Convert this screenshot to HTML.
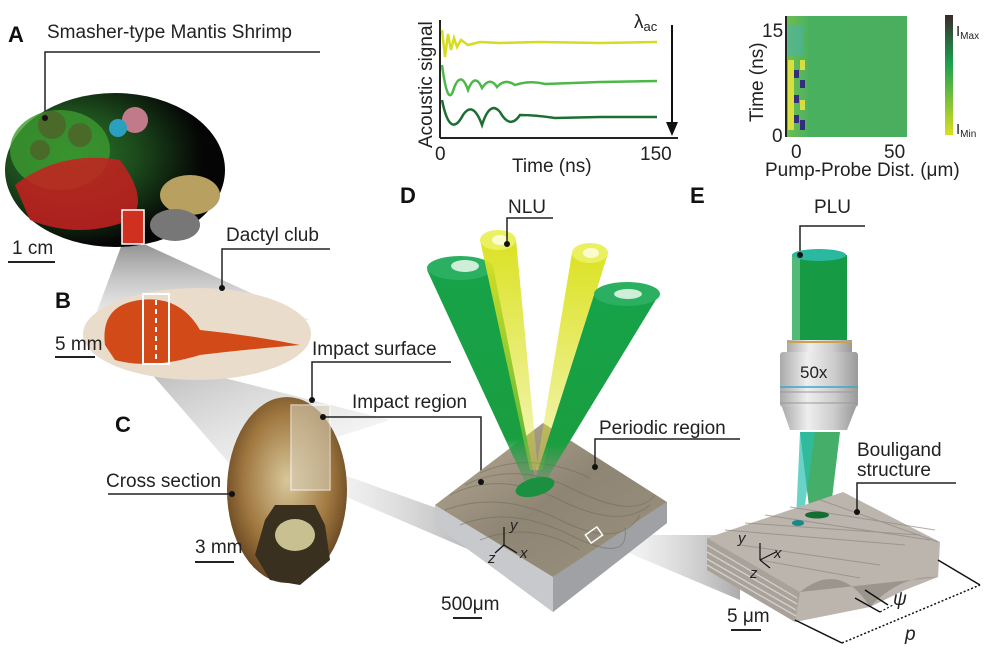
<!DOCTYPE html>
<html><head><meta charset="utf-8"><style>
html,body{margin:0;padding:0;background:#fff}
svg{display:block}
text{font-family:"Liberation Sans",sans-serif;fill:#222}
.lb{font-size:19px}
.big{font-size:22px;font-weight:bold;fill:#111}
.sm{font-size:15px}
</style></head><body>
<svg width="990" height="654" viewBox="0 0 990 654" xmlns="http://www.w3.org/2000/svg">
<defs>
<linearGradient id="wedge1" x1="0" y1="0" x2="0" y2="1"><stop offset="0" stop-color="#777"/><stop offset="1" stop-color="#ddd" stop-opacity="0.4"/></linearGradient>
<linearGradient id="wedge2" x1="0" y1="0" x2="1" y2="1"><stop offset="0" stop-color="#999"/><stop offset="1" stop-color="#eee" stop-opacity="0.3"/></linearGradient>
<linearGradient id="wedge3" x1="0" y1="0" x2="1" y2="0"><stop offset="0" stop-color="#ddd" stop-opacity="0.5"/><stop offset="1" stop-color="#888"/></linearGradient>
<linearGradient id="wedge4" x1="1" y1="0" x2="0" y2="0"><stop offset="0" stop-color="#888"/><stop offset="1" stop-color="#eee" stop-opacity="0.3"/></linearGradient>
<radialGradient id="ga" cx="0.3" cy="0.4" r="0.6"><stop offset="0" stop-color="#2a7a2a"/><stop offset="0.5" stop-color="#1c4a1c"/><stop offset="1" stop-color="#050505"/></radialGradient>
<radialGradient id="gc" cx="0.5" cy="0.45" r="0.6"><stop offset="0" stop-color="#d8c79a"/><stop offset="0.6" stop-color="#a07840"/><stop offset="1" stop-color="#5a3a1a"/></radialGradient>
<linearGradient id="top" x1="0" y1="0" x2="1" y2="1"><stop offset="0" stop-color="#b9ad96"/><stop offset="0.5" stop-color="#8f8574"/><stop offset="1" stop-color="#9b927f"/></linearGradient>
<linearGradient id="bg" x1="0" y1="0" x2="0" y2="1"><stop offset="0" stop-color="#16a34a"/><stop offset="0.8" stop-color="#1a9e40"/><stop offset="1" stop-color="#1a9e40" stop-opacity="0.2"/></linearGradient>
<linearGradient id="by" x1="0" y1="0" x2="0" y2="1"><stop offset="0" stop-color="#dce224"/><stop offset="1" stop-color="#dce224" stop-opacity="0.3"/></linearGradient>
<linearGradient id="obj" x1="0" y1="0" x2="1" y2="0"><stop offset="0" stop-color="#aaa"/><stop offset="0.35" stop-color="#eee"/><stop offset="0.7" stop-color="#ccc"/><stop offset="1" stop-color="#999"/></linearGradient>
<linearGradient id="hm" x1="0" y1="0" x2="1" y2="0"><stop offset="0" stop-color="#6fbf50"/><stop offset="0.2" stop-color="#49b060"/><stop offset="1" stop-color="#4aae5e"/></linearGradient>
<linearGradient id="cb" x1="0" y1="0" x2="0" y2="1"><stop offset="0" stop-color="#3a2a2a"/><stop offset="0.4" stop-color="#1aa050"/><stop offset="1" stop-color="#d8e020"/></linearGradient>
</defs>

<!-- wedges -->
<polygon points="122,244 144,244 310,320 90,330" fill="url(#wedge1)" opacity="0.8"/>
<polygon points="143,364 169,364 390,420 235,470" fill="url(#wedge2)" opacity="0.7"/>
<polygon points="330,470 330,490 470,550 470,520" fill="url(#wedge3)" opacity="0.6"/>
<polygon points="600,535 610,545 740,600 740,535" fill="url(#wedge4)" opacity="0.7"/>

<!-- A -->
<text class="big" x="8" y="42">A</text>
<text class="lb" x="47" y="38">Smasher-type Mantis Shrimp</text>
<polyline points="320,52 45,52 45,118" fill="none" stroke="#222" stroke-width="1.5"/>
<ellipse cx="115" cy="170" rx="110" ry="77" fill="url(#ga)"/>
<ellipse cx="60" cy="150" rx="50" ry="40" fill="#3c9a30" opacity="0.8"/>
<circle cx="52" cy="125" r="14" fill="#4a6a2a"/><circle cx="80" cy="135" r="12" fill="#4a6a2a"/><circle cx="40" cy="150" r="10" fill="#4a6a2a"/>
<circle cx="135" cy="120" r="13" fill="#c07a8a"/><circle cx="118" cy="128" r="9" fill="#2aa0c0"/>
<path d="M15,185 Q60,150 120,160 Q150,200 130,220 Q80,240 30,220Z" fill="#c82020" opacity="0.85"/>
<ellipse cx="190" cy="195" rx="30" ry="20" fill="#b8a060"/>
<ellipse cx="175" cy="225" rx="25" ry="16" fill="#777"/>
<rect x="122" y="210" width="22" height="34" fill="#d03020" stroke="#fff" stroke-width="1.5"/>
<text class="lb" x="12" y="254">1 cm</text>
<line x1="8" y1="262" x2="55" y2="262" stroke="#222" stroke-width="2"/>
<circle cx="45" cy="118" r="3" fill="#111"/>

<!-- B -->
<text class="lb" x="226" y="241">Dactyl club</text>
<polyline points="330,249 222,249 222,288" fill="none" stroke="#222" stroke-width="1.5"/>
<text class="big" x="55" y="308">B</text>
<ellipse cx="197" cy="334" rx="114" ry="46" fill="#eadccb"/>
<path d="M105,345 Q100,305 140,300 Q180,295 200,330 Q250,335 300,345 Q240,350 200,355 Q150,370 115,360Z" fill="#d24a18"/>
<rect x="143" y="294" width="26" height="70" fill="none" stroke="#fff" stroke-width="2"/>
<line x1="156" y1="300" x2="156" y2="360" stroke="#fff" stroke-width="2" stroke-dasharray="5,4"/>
<circle cx="222" cy="288" r="3" fill="#111"/>
<text class="lb" x="55" y="350">5 mm</text>
<line x1="55" y1="357" x2="95" y2="357" stroke="#222" stroke-width="2"/>

<!-- C -->
<text class="lb" x="312" y="355">Impact surface</text>
<polyline points="451,362 312,362 312,400" fill="none" stroke="#222" stroke-width="1.5"/>
<text class="big" x="115" y="432">C</text>
<ellipse cx="287" cy="490" rx="60" ry="93" fill="url(#gc)"/>
<path d="M255,555 L265,520 L275,505 L315,505 L325,525 L330,560 L300,585 L270,580Z" fill="#3a3020"/>
<ellipse cx="295" cy="535" rx="20" ry="16" fill="#c8c090"/>
<rect x="291" y="405" width="39" height="85" fill="#d8cfb8" opacity="0.6" stroke="#fff" stroke-width="1.5"/>
<text class="lb" x="352" y="408">Impact region</text>
<polyline points="323,417 481,417 481,482" fill="none" stroke="#222" stroke-width="1.5"/>
<circle cx="323" cy="417" r="3" fill="#111"/>
<circle cx="312" cy="400" r="3" fill="#111"/>
<text class="lb" x="106" y="487">Cross section</text>
<line x1="108" y1="494" x2="232" y2="494" stroke="#222" stroke-width="1.5"/>
<circle cx="232" cy="494" r="3" fill="#111"/>
<text class="lb" x="195" y="553">3 mm</text>
<line x1="195" y1="562" x2="234" y2="562" stroke="#222" stroke-width="2"/>

<!-- D plot -->
<line x1="440" y1="20" x2="440" y2="138" stroke="#222" stroke-width="2"/>
<line x1="440" y1="138" x2="678" y2="138" stroke="#222" stroke-width="2"/>
<text class="lb" transform="translate(432,148) rotate(-90)">Acoustic signal</text>
<path d="M442,30 L445,57 L448,34 L451,50 L454,38 L457,47 L461,40 L468,45 L480,42 L500,43 L540,42 L600,43 L657,42" fill="none" stroke="#d6dc20" stroke-width="2.5"/>
<path d="M442,65 Q448,110 454,88 Q461,70 468,90 Q475,72 482,88 Q490,76 497,87 Q505,78 515,85 Q530,80 545,84 L600,82 L657,81" fill="none" stroke="#4cb848" stroke-width="2.5"/>
<path d="M442,100 Q450,140 463,115 Q473,100 482,125 Q490,100 500,112 Q510,130 520,115 Q535,115 555,118 L600,117 L657,117" fill="none" stroke="#1d6e32" stroke-width="2.5"/>
<line x1="672" y1="25" x2="672" y2="125" stroke="#111" stroke-width="2"/>
<polygon points="666,122 678,122 672,136" fill="#111"/>
<text class="lb" x="634" y="28">λ<tspan font-size="13" dy="3">ac</tspan></text>
<text class="lb" x="435" y="160">0</text>
<text class="lb" x="640" y="160">150</text>
<text class="lb" x="512" y="172">Time (ns)</text>

<!-- heatmap -->
<rect x="786" y="16" width="121" height="121" fill="url(#hm)"/>
<g opacity="0.9">
<rect x="788" y="60" width="6" height="70" fill="#e4e440"/><rect x="794" y="70" width="5" height="8" fill="#302080"/>
<rect x="794" y="95" width="5" height="8" fill="#302080"/><rect x="794" y="115" width="5" height="8" fill="#302080"/>
<rect x="800" y="60" width="5" height="10" fill="#e4e440"/><rect x="800" y="80" width="5" height="8" fill="#302080"/>
<rect x="800" y="100" width="5" height="10" fill="#e4e440"/><rect x="800" y="120" width="5" height="10" fill="#302080"/>
<rect x="788" y="25" width="15" height="30" fill="#4ab0b0" opacity="0.6"/>
</g>
<line x1="786" y1="16" x2="786" y2="137" stroke="#222" stroke-width="2"/>
<text class="lb" x="762" y="37">15</text>
<text class="lb" x="772" y="142">0</text>
<text class="lb" transform="translate(763,122) rotate(-90)">Time (ns)</text>
<text class="lb" x="791" y="158">0</text>
<text class="lb" x="884" y="158">50</text>
<text class="lb" x="765" y="176">Pump-Probe Dist. (μm)</text>
<rect x="945" y="15" width="8" height="120" fill="url(#cb)"/>
<text class="sm" x="956" y="36" font-size="14">I<tspan font-size="10" dy="3">Max</tspan></text>
<text class="sm" x="956" y="134" font-size="14">I<tspan font-size="10" dy="3">Min</tspan></text>

<!-- D block -->
<text class="big" x="400" y="203">D</text>
<polygon points="435,505 435,525 553,612 667,523 667,502 553,577" fill="#bfc1c4"/>
<polygon points="435,525 553,612 553,577 435,505" fill="#c8c9cc"/>
<polygon points="553,612 667,523 667,502 553,577" fill="#9fa1a4"/>
<polygon points="435,505 543,423 667,502 553,577" fill="url(#top)"/>
<g stroke="#6e6656" stroke-width="1" opacity="0.5" fill="none">
<path d="M450,495 Q500,470 560,500 T650,505"/><path d="M465,485 Q515,460 575,490 T655,495"/><path d="M480,473 Q530,450 590,478"/>
<path d="M445,510 Q500,490 560,520 T640,515"/><path d="M460,525 Q510,505 570,535 T625,528"/><path d="M480,540 Q530,520 580,550"/>
</g>
<!-- beams -->
<polygon points="427,270 493,266 535,480 525,482" fill="url(#bg)"/>
<ellipse cx="460" cy="268" rx="33" ry="12" fill="#2ab060"/>
<ellipse cx="465" cy="266" rx="14" ry="6" fill="#cfeed8"/>
<polygon points="480,240 516,240 538,470 530,470" fill="url(#by)"/>
<ellipse cx="498" cy="240" rx="18" ry="10" fill="#eaf060"/>
<ellipse cx="500" cy="240" rx="8" ry="5" fill="#fafcd0"/>
<polygon points="572,253 608,253 542,470 536,470" fill="url(#by)"/>
<ellipse cx="590" cy="253" rx="18" ry="10" fill="#eaf060"/>
<ellipse cx="591" cy="253" rx="8" ry="5" fill="#fafcd0"/>
<polygon points="594,295 660,293 545,482 535,480" fill="url(#bg)"/>
<ellipse cx="627" cy="294" rx="33" ry="12" fill="#2ab060"/>
<ellipse cx="628" cy="294" rx="14" ry="5" fill="#cfeed8"/>
<ellipse cx="535" cy="487" rx="20" ry="9" transform="rotate(-15 535 487)" fill="#1a9040"/>
<rect x="587" y="530" width="14" height="10" transform="rotate(-35 594 535)" fill="none" stroke="#fff" stroke-width="1.5"/>
<text class="lb" x="508" y="213">NLU</text>
<polyline points="553,218 507,218 507,244" fill="none" stroke="#222" stroke-width="1.5"/>
<circle cx="507" cy="244" r="3" fill="#111"/>
<text class="lb" x="599" y="434">Periodic region</text>
<polyline points="740,439 595,439 595,467" fill="none" stroke="#222" stroke-width="1.5"/>
<circle cx="595" cy="467" r="3" fill="#111"/>
<circle cx="481" cy="482" r="3" fill="#111"/>
<g stroke="#111" stroke-width="1.2" fill="none"><line x1="504" y1="545" x2="504" y2="527"/><line x1="504" y1="545" x2="517" y2="553"/><line x1="504" y1="545" x2="495" y2="553"/></g>
<text class="sm" x="510" y="530" font-style="italic">y</text><text class="sm" x="520" y="558" font-style="italic">x</text><text class="sm" x="488" y="563" font-style="italic">z</text>
<text class="lb" x="441" y="610">500μm</text>
<line x1="453" y1="618" x2="482" y2="618" stroke="#222" stroke-width="2"/>

<!-- E -->
<text class="big" x="690" y="203">E</text>
<text class="lb" x="814" y="213">PLU</text>
<polyline points="865,226 800,226 800,255" fill="none" stroke="#222" stroke-width="1.5"/>
<rect x="792" y="255" width="55" height="90" fill="#169a44"/>
<rect x="792" y="255" width="8" height="90" fill="#7ccf9a" opacity="0.6"/>
<ellipse cx="819" cy="255" rx="27" ry="6" fill="#2ab8a0"/>
<circle cx="800" cy="255" r="3" fill="#111"/>
<rect x="787" y="340" width="65" height="12" fill="url(#obj)"/>
<line x1="787" y1="342" x2="852" y2="342" stroke="#c9a24a" stroke-width="2"/>
<rect x="780" y="352" width="78" height="55" rx="3" fill="url(#obj)"/>
<text x="800" y="378" font-size="17" fill="#444">50x</text>
<line x1="780" y1="387" x2="858" y2="387" stroke="#3aa8c8" stroke-width="1.5"/>
<g stroke="#999" stroke-width="1">
<line x1="780" y1="392" x2="858" y2="392"/><line x1="780" y1="403" x2="858" y2="403"/>
</g>
<polygon points="782,407 856,407 847,430 790,430" fill="url(#obj)"/>
<polygon points="800,432 840,432 830,515 810,515" fill="#169a44" opacity="0.8"/>
<polygon points="800,432 815,432 803,520 796,520" fill="#2ac0b0" opacity="0.7"/>
<!-- bouligand -->
<polygon points="707,538 843,492 940,542 938,577 905,590 870,607 795,622 707,570" fill="#bcb5ae"/>
<polygon points="707,538 800,592 795,622 707,570" fill="#a8a29b"/>
<g stroke="#d6d0ca" stroke-width="1.3">
<line x1="707" y1="545" x2="797" y2="598"/><line x1="707" y1="552" x2="797" y2="604"/><line x1="707" y1="559" x2="796" y2="610"/><line x1="707" y1="565" x2="796" y2="616"/>
</g>
<g stroke="#8f8880" stroke-width="1" opacity="0.7">
<line x1="725" y1="530" x2="905" y2="545"/><line x1="745" y1="523" x2="920" y2="535"/><line x1="765" y1="515" x2="930" y2="540"/><line x1="790" y1="507" x2="935" y2="530"/>
<line x1="815" y1="498" x2="938" y2="542"/><line x1="740" y1="545" x2="880" y2="565"/><line x1="760" y1="560" x2="860" y2="578"/>
</g>
<path d="M800,592 Q840,560 870,607 Q900,575 938,577" fill="#9c958e"/>
<ellipse cx="817" cy="515" rx="12" ry="3.5" fill="#136e30"/>
<ellipse cx="798" cy="523" rx="6" ry="3" fill="#168a88"/>
<text class="lb" x="857" y="456">Bouligand</text>
<text class="lb" x="857" y="476">structure</text>
<polyline points="956,483 857,483 857,512" fill="none" stroke="#222" stroke-width="1.5"/>
<circle cx="857" cy="512" r="3" fill="#111"/>
<g stroke="#111" stroke-width="1.2" fill="none"><line x1="760" y1="560" x2="760" y2="543"/><line x1="760" y1="560" x2="776" y2="552"/><line x1="760" y1="560" x2="770" y2="568"/></g>
<text class="sm" x="738" y="543" font-style="italic">y</text><text class="sm" x="774" y="558" font-style="italic">x</text><text class="sm" x="750" y="578" font-style="italic">z</text>
<g stroke="#111" stroke-width="1.5">
<line x1="795" y1="620" x2="842" y2="643"/><line x1="938" y1="560" x2="980" y2="585"/>
<line x1="865" y1="590" x2="888" y2="605"/><line x1="855" y1="598" x2="880" y2="612"/>
</g>
<line x1="842" y1="643" x2="980" y2="585" stroke="#111" stroke-width="1.5" stroke-dasharray="2,2"/>
<line x1="880" y1="612" x2="893" y2="605" stroke="#111" stroke-width="1.2" stroke-dasharray="2,2"/>
<text class="lb" x="893" y="605" font-style="italic">ψ</text>
<text class="lb" x="905" y="640" font-style="italic">p</text>
<text class="lb" x="727" y="622">5 μm</text>
<line x1="731" y1="630" x2="761" y2="630" stroke="#222" stroke-width="2"/>
</svg>
</body></html>
